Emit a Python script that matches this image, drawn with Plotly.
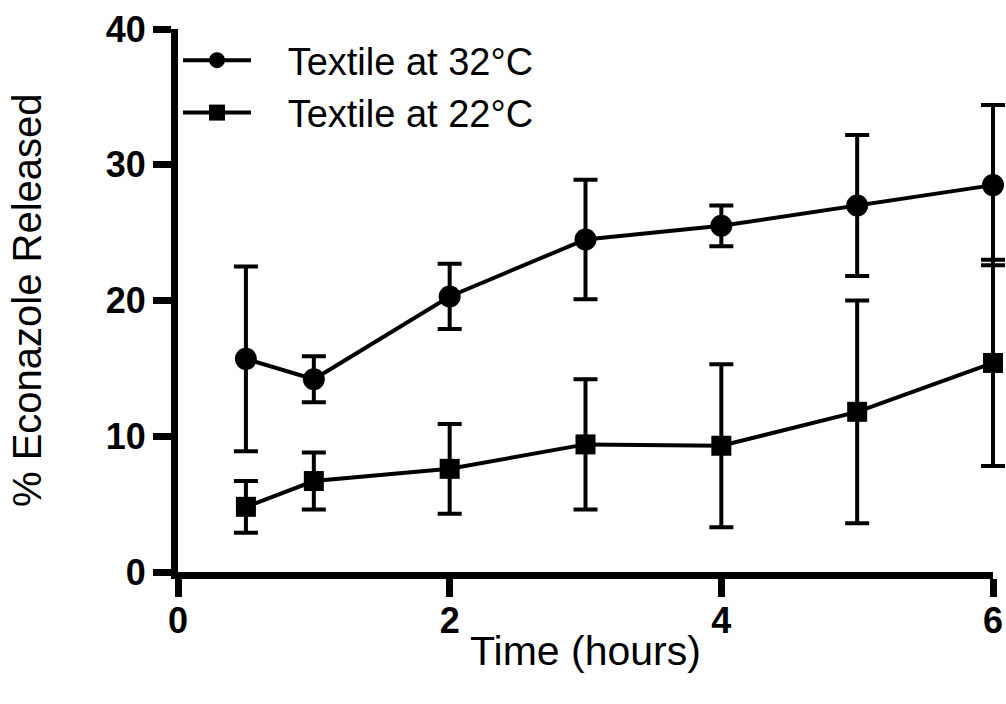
import plotly.graph_objects as go

time_h = [0.5, 1, 2, 3, 4, 5, 6]

release_32 = [15.7, 14.2, 20.3, 24.5, 25.5, 27.0, 28.5]
err_32 = [6.8, 1.7, 2.4, 4.4, 1.5, 5.2, 5.9]

release_22 = [4.8, 6.7, 7.6, 9.4, 9.3, 11.8, 15.4]
err_22 = [1.9, 2.1, 3.3, 4.8, 6.0, 8.2, 7.6]

x_ticks = [0, 2, 4, 6]
y_ticks = [0, 10, 20, 30, 40]

FONT = "Liberation Sans, Arial, sans-serif"
X_MAX = 6

W, H = 1006, 704
L, R, T, B = 178, 0, 29, 132
AXIS_PX = 815  # pixel width of the visible 0..6 axis
plot_w = W - L - R
plot_h = H - T - B
dom_end = AXIS_PX / plot_w
x_data_max = X_MAX / dom_end  # data axis extends a bit past 6 so caps aren't clipped


def px_to_paper_x(px):
    return (px - L) / plot_w


def px_to_paper_y(py):
    return (H - B - py) / plot_h


fig = go.Figure()
fig.add_trace(go.Scatter(
    x=time_h, y=release_32, name="\u00a0\u00a0\u00a0Textile at 32°C",
    mode="lines+markers",
    line=dict(color="black", width=4),
    marker=dict(symbol="circle", size=22, color="black"),
    error_y=dict(type="data", array=err_32, visible=True, color="black", thickness=4, width=12),
    cliponaxis=False,
))
fig.add_trace(go.Scatter(
    x=time_h, y=release_22, name="\u00a0\u00a0\u00a0Textile at 22°C",
    mode="lines+markers",
    line=dict(color="black", width=4),
    marker=dict(symbol="square", size=20, color="black"),
    error_y=dict(type="data", array=err_22, visible=True, color="black", thickness=4, width=12),
    cliponaxis=False,
))
# invisible trace so the visible x axis (xaxis2) is rendered
fig.add_trace(go.Scatter(x=[], y=[], xaxis="x2", yaxis="y", showlegend=False, hoverinfo="skip"))

fig.update_layout(
    width=W, height=H,
    margin=dict(l=L, r=R, t=T, b=B),
    plot_bgcolor="rgba(0,0,0,0)", paper_bgcolor="white",
    font=dict(family=FONT, color="black"),
    showlegend=True,
    legend=dict(x=0.0, y=1.0, xanchor="left", yanchor="top",
                font=dict(size=38, family=FONT, color="black"),
                bgcolor="rgba(0,0,0,0)", itemwidth=68,
                tracegroupgap=0),
    xaxis=dict(range=[0, x_data_max], domain=[0, 1],
               showline=False, showticklabels=False, ticks="",
               showgrid=False, zeroline=False, automargin=False),
    xaxis2=dict(range=[0, X_MAX], domain=[0, dom_end], anchor="y",
                tickvals=x_ticks, ticktext=[str(v) for v in x_ticks],
                showline=True, linecolor="black", linewidth=7,
                ticks="outside", ticklen=18, tickwidth=7, tickcolor="black",
                ticklabelstandoff=-7,
                showgrid=False, zeroline=False, automargin=False,
                tickfont=dict(size=36, family=FONT, color="black", weight="bold")),
    yaxis=dict(range=[0, 40], tickvals=y_ticks, ticktext=[str(v) for v in y_ticks],
               showline=True, linecolor="black", linewidth=7,
               ticks="outside", ticklen=18, tickwidth=7, tickcolor="black",
               showgrid=False, zeroline=False, automargin=False,
               tickfont=dict(size=36, family=FONT, color="black", weight="bold")),
    annotations=[
        dict(text="Time (hours)", xref="paper", yref="paper",
             x=px_to_paper_x(585), y=px_to_paper_y(651),
             xanchor="center", yanchor="middle", showarrow=False,
             font=dict(size=41, family=FONT, color="black")),
        dict(text="% Econazole Released", xref="paper", yref="paper",
             x=px_to_paper_x(27), y=px_to_paper_y(300), textangle=-90,
             xanchor="center", yanchor="middle", showarrow=False,
             font=dict(size=40, family=FONT, color="black")),
    ],
)

fig.write_html("out.html")
